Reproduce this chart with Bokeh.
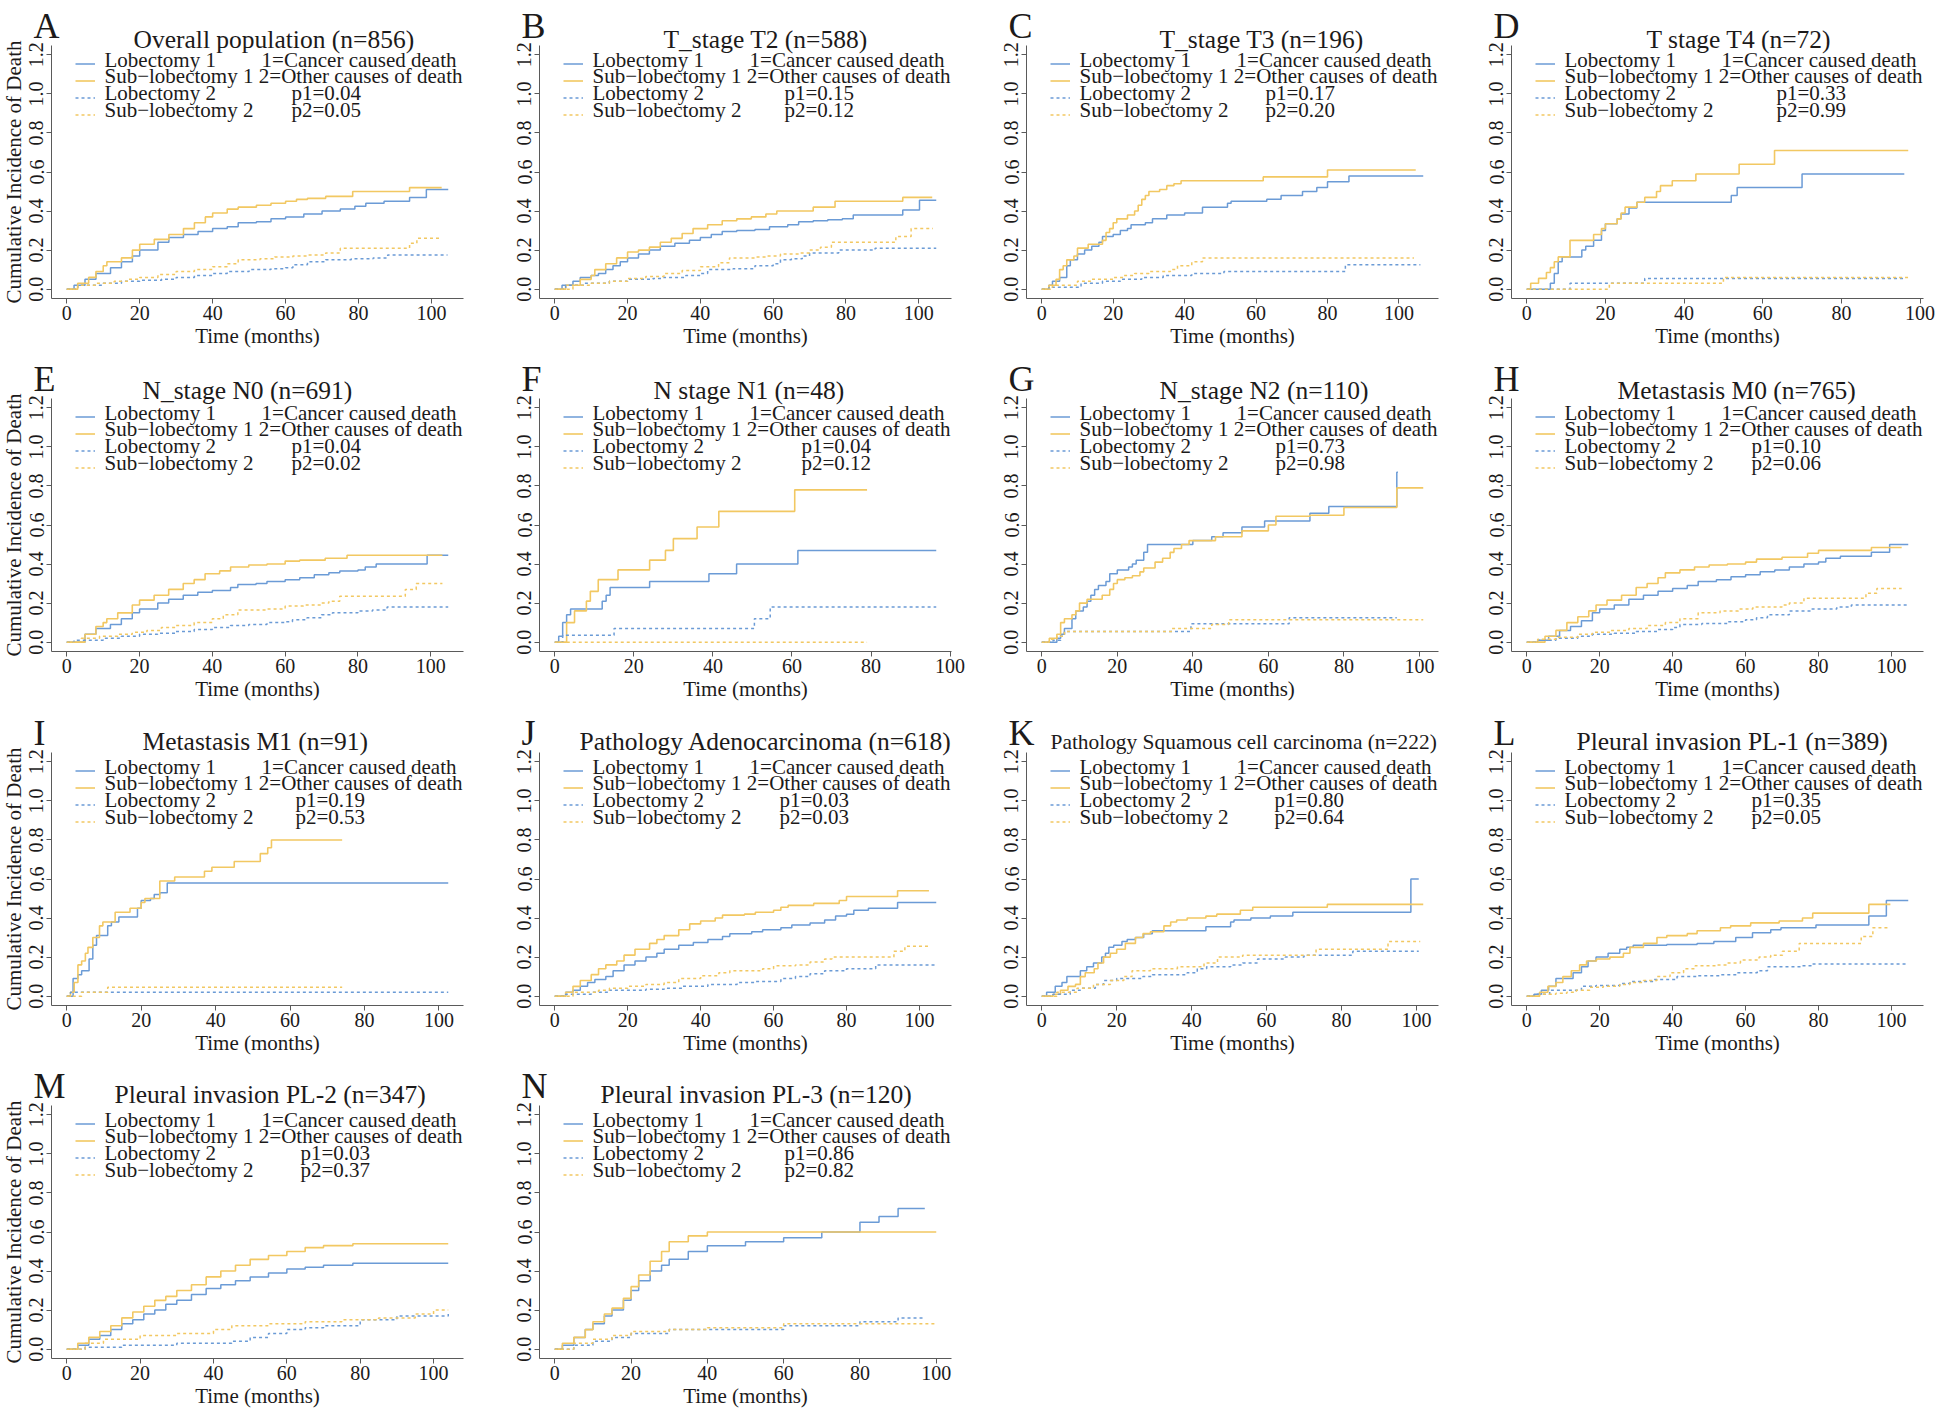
from bokeh.plotting import figure
from bokeh.layouts import gridplot
from bokeh.models import Range1d, Label, FixedTicker, PrintfTickFormatter, Legend, LegendItem
from bokeh.embed import file_html
from bokeh.resources import INLINE

# ---------------- data (time in months, cumulative incidence) ----------------
A_lob1_t = [0,2,5,8,12,15,18,20,25,28,32,36,40,44,47,52,56,60,65,70,75,79,82,87,94,98.6,104.6]
A_lob1_y = [0,0.02,0.05,0.08,0.11,0.14,0.17,0.2,0.24,0.265,0.28,0.295,0.31,0.32,0.34,0.345,0.36,0.37,0.385,0.4,0.41,0.425,0.44,0.45,0.47,0.51,0.51]
A_sub1_t = [0,3,6,8,10,11,15,18,20,24,28,32,35,38,40,44,47,52,56,60,63,66,71,78.4,94,102.8]
A_sub1_y = [0,0.03,0.06,0.09,0.12,0.14,0.16,0.2,0.23,0.255,0.28,0.31,0.34,0.37,0.39,0.41,0.42,0.43,0.44,0.45,0.46,0.465,0.475,0.5,0.52,0.52]
A_lob2_t = [0,3,10,15,20,26,30,35,40,44,50,56,60,62,66,71,78,84,88,104.4]
A_lob2_y = [0,0.02,0.03,0.04,0.045,0.05,0.06,0.07,0.08,0.09,0.1,0.105,0.11,0.125,0.14,0.15,0.155,0.16,0.175,0.175]
A_sub2_t = [0,3,8,13,17,20,25,30,35,40,44,47,53,57,62,66,71,75,94,96,102.8]
A_sub2_y = [0,0.02,0.03,0.04,0.05,0.06,0.075,0.09,0.1,0.115,0.13,0.15,0.155,0.165,0.17,0.175,0.185,0.21,0.235,0.26,0.26]

B_lob1_t = [0,2,5,7,10,12,14,16,18,20,23,26,29,33,37,40,43,46,50,55,59,64,67,71,75,79,82,95.6,100.2,104.8]
B_lob1_y = [0,0.02,0.04,0.06,0.07,0.08,0.1,0.12,0.14,0.16,0.18,0.2,0.22,0.235,0.25,0.265,0.28,0.295,0.3,0.305,0.32,0.33,0.345,0.35,0.355,0.36,0.38,0.405,0.455,0.455]
B_sub1_t = [0,3,7,10,11,14,17,20,23,26,29,32,35,38,42,46,50,54,58,61,71,77,95.6,103.7]
B_sub1_y = [0,0.02,0.05,0.07,0.1,0.13,0.16,0.19,0.2,0.215,0.24,0.26,0.285,0.31,0.33,0.35,0.36,0.37,0.385,0.4,0.42,0.45,0.47,0.47]
B_lob2_t = [0,3,8,15,20,27,30,36,40,42,49,55,60,62,65,68,70,78,88,104.8]
B_lob2_y = [0,0.02,0.03,0.04,0.05,0.055,0.06,0.07,0.08,0.1,0.105,0.12,0.13,0.15,0.155,0.17,0.185,0.2,0.21,0.21]
B_sub2_t = [0,5,10,15,20,25,30,35,40,45,48,55,58,62,67,70,73,76,93.7,97.9,103.9]
B_sub2_y = [0,0.02,0.03,0.04,0.055,0.065,0.08,0.095,0.115,0.135,0.16,0.165,0.17,0.18,0.185,0.2,0.215,0.24,0.27,0.31,0.31]

C_lob1_t = [0,2,3,5,7,8,10,12,14,16,17,20,22,24,25,29,31,35,40,45,52,53,63,67,73,77,80,86,106.8]
C_lob1_y = [0,0.02,0.04,0.06,0.12,0.15,0.18,0.2,0.22,0.24,0.27,0.28,0.3,0.31,0.33,0.34,0.36,0.38,0.39,0.42,0.44,0.45,0.46,0.48,0.5,0.52,0.55,0.58,0.58]
C_sub1_t = [0,2,4,5,6,7,9,10,13,17,18,19,20,21,24,26,27,28,29,30,33,35,37,39,62,80,104.7]
C_sub1_y = [0,0.02,0.05,0.1,0.12,0.15,0.17,0.21,0.23,0.25,0.29,0.31,0.34,0.36,0.38,0.4,0.43,0.46,0.48,0.5,0.51,0.53,0.54,0.555,0.575,0.61,0.61]
C_lob2_t = [0,2,11,17,22,28,34,42,51,85,106]
C_lob2_y = [0,0.01,0.03,0.04,0.05,0.06,0.07,0.08,0.09,0.125,0.125]
C_sub2_t = [0,3,10,14,20,23,26,30,36,38,42,45,104.2]
C_sub2_y = [0,0.02,0.04,0.05,0.06,0.07,0.08,0.09,0.1,0.12,0.14,0.16,0.16]

D_lob1_t = [0,6,7,8,9,14,15,17,19,20,23,24,26,28,52,53.5,70,96]
D_lob1_y = [0,0.03,0.08,0.14,0.165,0.2,0.22,0.25,0.3,0.335,0.36,0.385,0.415,0.445,0.48,0.52,0.59,0.59]
D_sub1_t = [0,1,3,5,6,7,8,11,17,19,20,23,24,25,28,30,33,34,37,43,54,63,97]
D_sub1_y = [0,0.03,0.055,0.085,0.11,0.14,0.165,0.25,0.28,0.31,0.335,0.36,0.39,0.42,0.445,0.47,0.5,0.53,0.555,0.59,0.64,0.71,0.71]
D_lob2_t = [0,11,30,96]
D_lob2_y = [0,0.03,0.055,0.055]
D_sub2_t = [0,21,50,97]
D_sub2_y = [0,0.03,0.06,0.06]

E_lob1_t = [0,5,8,12,15,18,20,25,28,32,36,40,45,47,52,55,60,64,68,72,75,80,82,85,99,104.8]
E_lob1_y = [0,0.04,0.07,0.09,0.12,0.15,0.17,0.2,0.22,0.24,0.255,0.265,0.28,0.295,0.3,0.31,0.32,0.33,0.345,0.355,0.365,0.37,0.385,0.4,0.445,0.445]
E_sub1_t = [0,5,8,10,11,14,18,20,24,28,32,35,38,42,45,50,55,60,64,71,77,103.2]
E_sub1_y = [0,0.04,0.08,0.1,0.12,0.15,0.19,0.215,0.24,0.27,0.3,0.32,0.35,0.365,0.385,0.395,0.4,0.415,0.42,0.43,0.445,0.445]
E_lob2_t = [0,2,10,15,20,25,30,35,40,45,50,55,60,62,66,70,73,80,84,88,104.8]
E_lob2_y = [0,0.01,0.02,0.03,0.04,0.045,0.055,0.065,0.075,0.085,0.09,0.1,0.105,0.115,0.125,0.14,0.15,0.16,0.165,0.18,0.18]
E_sub2_t = [0,4,9,14,18,22,26,30,35,40,43,47,55,60,65,70,72,75,93,96,103.2]
E_sub2_y = [0,0.02,0.03,0.04,0.05,0.06,0.075,0.085,0.1,0.12,0.14,0.165,0.17,0.185,0.19,0.2,0.21,0.235,0.27,0.3,0.3]

F_lob1_t = [0,1,2,3,4,12,13,14,24,39,46,61.5,96.5]
F_lob1_y = [0,0.03,0.1,0.14,0.17,0.21,0.24,0.28,0.31,0.35,0.4,0.47,0.47]
F_sub1_t = [0,3,5,8,9,11,16,24,28,30,36,41.5,60.7,79]
F_sub1_y = [0,0.1,0.16,0.21,0.26,0.32,0.37,0.42,0.47,0.53,0.59,0.67,0.78,0.78]
F_lob2_t = [0,2,15,50.5,54.5,96.5]
F_lob2_y = [0,0.035,0.07,0.12,0.18,0.18]
F_sub2_t = [0,79]
F_sub2_y = [0,0]

G_lob1_t = [0,4,5,6,8,9,11,12,13,14,15,17,18,20,23,24,25,27,28,38,40,45,48,53,59,71,76,94,94.3]
G_lob1_y = [0,0.02,0.04,0.07,0.12,0.16,0.18,0.21,0.24,0.27,0.29,0.31,0.35,0.37,0.385,0.4,0.42,0.46,0.5,0.5,0.52,0.54,0.56,0.59,0.62,0.66,0.695,0.87,0.87]
G_sub1_t = [0,2,4,5,6,8,9,10,12,16,18,19,20,22,24,26,27,30,32,34,35,37,39,46,53,60,62,71,80,94,101]
G_sub1_y = [0,0.02,0.04,0.1,0.12,0.14,0.16,0.2,0.22,0.24,0.27,0.3,0.32,0.33,0.34,0.36,0.38,0.41,0.43,0.46,0.48,0.5,0.52,0.54,0.57,0.6,0.645,0.65,0.69,0.79,0.79]
G_lob2_t = [0,3,5,6,39.5,65.5,94]
G_lob2_y = [0,0.01,0.03,0.055,0.094,0.125,0.125]
G_sub2_t = [0,2,4,6,34.5,45,49.5,101]
G_sub2_y = [0,0.015,0.03,0.055,0.07,0.09,0.115,0.115]

H_lob1_t = [0,3,6,9,12,15,18,20,24,28,32,36,40,44,47,52,56,60,64,68,72,76,80,82,86,94.5,99.5,104.6]
H_lob1_y = [0,0.01,0.03,0.06,0.08,0.11,0.15,0.17,0.19,0.22,0.24,0.26,0.275,0.29,0.31,0.32,0.335,0.345,0.36,0.37,0.385,0.4,0.41,0.43,0.44,0.46,0.5,0.5]
H_sub1_t = [0,5,8,11,14,17,19,22,26,30,33,36,38,42,46,50,55,60,63,70,77,80,94.5,102.8]
H_sub1_y = [0,0.03,0.06,0.1,0.13,0.16,0.19,0.215,0.24,0.28,0.3,0.33,0.355,0.37,0.385,0.395,0.4,0.41,0.425,0.435,0.455,0.47,0.485,0.485]
H_lob2_t = [0,3,8,14,18,24,30,36,40,42,48,55,60,63,66,72,78,85,89,104.6]
H_lob2_y = [0,0.01,0.02,0.03,0.04,0.045,0.055,0.065,0.075,0.09,0.095,0.105,0.115,0.125,0.14,0.16,0.17,0.18,0.19,0.19]
H_sub2_t = [0,3,8,14,18,23,28,33,38,42,47,53,58,62,70,72,76,93,96,102.8]
H_sub2_y = [0,0.015,0.025,0.04,0.05,0.06,0.07,0.085,0.1,0.12,0.15,0.16,0.17,0.18,0.19,0.2,0.225,0.25,0.275,0.275]

I_lob1_t = [0,1.7,3,4,6,7,8,11,12,14,19,20,22.5,23.5,25,27,102.5]
I_lob1_y = [0,0.09,0.11,0.13,0.19,0.26,0.31,0.36,0.38,0.405,0.45,0.49,0.5,0.52,0.53,0.58,0.58]
I_sub1_t = [0,1,2,3,4,5,5.7,7,8.8,9.7,13,17,20,21,25,29,37,39,45,52,54,55,74]
I_sub1_y = [0,0.02,0.07,0.16,0.18,0.22,0.25,0.3,0.36,0.38,0.43,0.45,0.48,0.5,0.59,0.61,0.64,0.66,0.69,0.73,0.76,0.8,0.8]
I_lob2_t = [0,1,102.5]
I_lob2_y = [0,0.02,0.02]
I_sub2_t = [0,4,11,74]
I_sub2_y = [0,0.02,0.045,0.045]

J_lob1_t = [0,3,5,7,9,11,14,16,19,22,25,28,30,34,38,42,46,48,54,57,62,65,70,74,77,80,82,86,94,104.6]
J_lob1_y = [0,0.02,0.03,0.05,0.07,0.085,0.1,0.13,0.16,0.18,0.2,0.22,0.24,0.26,0.275,0.29,0.305,0.32,0.33,0.34,0.35,0.365,0.375,0.39,0.41,0.42,0.44,0.45,0.48,0.48]
J_sub1_t = [0,3,5,7,10,12,14,17,19,22,26,28,30,34,37,40,44,46,52,55,60,62,64,71,78,80,94,102.6]
J_sub1_y = [0,0.02,0.05,0.08,0.11,0.14,0.16,0.18,0.21,0.24,0.27,0.29,0.31,0.34,0.37,0.385,0.4,0.415,0.42,0.43,0.44,0.455,0.465,0.475,0.49,0.51,0.54,0.54]
J_lob2_t = [0,3,10,15,25,30,35,42,50,55,62,66,70,74,80,88,104.6]
J_lob2_y = [0,0.01,0.02,0.03,0.035,0.04,0.05,0.06,0.07,0.075,0.09,0.1,0.115,0.13,0.14,0.16,0.16]
J_sub2_t = [0,5,12,15,20,25,30,34,40,45,48,57,60,66,70,74,76,93,96,102.6]
J_sub2_y = [0,0.02,0.03,0.04,0.05,0.06,0.07,0.09,0.105,0.12,0.13,0.14,0.155,0.16,0.175,0.19,0.2,0.23,0.255,0.255]

K_lob1_t = [0,1.3,3.6,5.4,6.7,10.3,12,13.8,16,17,17.9,19.2,21.4,22.8,25,27.2,29.5,43.8,50.4,51.3,55.8,61,67,98.5,100.6]
K_lob1_y = [0,0.02,0.05,0.07,0.1,0.13,0.15,0.17,0.2,0.22,0.25,0.26,0.28,0.29,0.3,0.32,0.335,0.355,0.38,0.39,0.4,0.41,0.43,0.6,0.6]
K_sub1_t = [0,3,5,7,9,10.3,11.6,14,15,16.5,18.3,20,22.3,25,27,29,32.6,34.4,36,38.8,43.8,46.7,53,56.3,76.2,101.8]
K_sub1_y = [0,0.01,0.03,0.05,0.06,0.1,0.12,0.14,0.17,0.2,0.22,0.24,0.27,0.3,0.32,0.33,0.36,0.38,0.39,0.4,0.41,0.42,0.44,0.455,0.47,0.47]
K_lob2_t = [0,3,7.6,10.3,14.3,16.5,20,27,29.5,38.8,41.5,44,50.4,53.6,57.6,65,70,83,100.6]
K_lob2_y = [0,0.01,0.03,0.04,0.06,0.08,0.09,0.1,0.11,0.12,0.14,0.15,0.16,0.17,0.19,0.2,0.21,0.23,0.23]
K_sub2_t = [0,4,9.4,13.8,18.3,21.9,24.1,29,36.2,43.3,46.9,53.6,73.2,92.4,101]
K_sub2_y = [0,0.02,0.04,0.06,0.08,0.1,0.13,0.14,0.15,0.17,0.2,0.21,0.24,0.28,0.28]

L_lob1_t = [0,2,4,6,8,12.7,15,16.8,19,22.3,25.5,27.4,29.2,38.4,46.7,51.3,57.3,61.9,66.9,69.7,79.3,93.8,98.6,104.6]
L_lob1_y = [0,0.01,0.03,0.05,0.09,0.12,0.15,0.18,0.2,0.22,0.24,0.25,0.26,0.265,0.27,0.28,0.3,0.325,0.34,0.35,0.365,0.41,0.49,0.49]
L_sub1_t = [0,3.5,5.8,8,9.9,12.2,14.5,16.4,19.1,22.8,26.5,28.3,32,35.7,38.4,44,46.7,53.1,55.9,61.4,69.2,75.6,78.4,93.8,99.7]
L_sub1_y = [0,0.02,0.05,0.07,0.1,0.13,0.16,0.18,0.19,0.2,0.22,0.25,0.27,0.3,0.31,0.32,0.335,0.35,0.36,0.375,0.385,0.4,0.425,0.47,0.47]
L_lob2_t = [0,2,6.3,15,19,25.5,28.3,34.7,41.2,46.7,53.1,57.7,63.2,66,75.2,78,104.6]
L_lob2_y = [0,0.01,0.03,0.05,0.055,0.065,0.075,0.085,0.1,0.105,0.11,0.12,0.13,0.15,0.155,0.165,0.165]
L_sub2_t = [0,3.5,8,11,13.6,17.3,21,25.5,28.3,32,35.7,39.3,43,46.2,52.2,55,58.6,63.7,66.9,70.1,74.7,91.7,94.9,99.7]
L_sub2_y = [0,0.01,0.015,0.02,0.03,0.045,0.05,0.06,0.07,0.08,0.1,0.12,0.14,0.155,0.16,0.17,0.185,0.2,0.21,0.23,0.27,0.305,0.35,0.35]

M_lob1_t = [0,3,6,9,12,15,18,21,24,27,30,34,38,42,46,50,55,60,65,70,78,104]
M_lob1_y = [0,0.02,0.05,0.07,0.1,0.13,0.15,0.18,0.2,0.23,0.25,0.28,0.31,0.33,0.35,0.37,0.39,0.41,0.42,0.43,0.44,0.44]
M_sub1_t = [0,3,6,9,12,15,18,21,24,27,30,34,38,42,46,50,55,60,65,70,78,104]
M_sub1_y = [0,0.03,0.06,0.09,0.12,0.16,0.19,0.22,0.25,0.27,0.3,0.33,0.37,0.4,0.43,0.46,0.48,0.5,0.52,0.53,0.54,0.54]
M_lob2_t = [0,5,15,30,45,50,55,60,65,70,80,90,104]
M_lob2_y = [0,0.01,0.02,0.03,0.04,0.06,0.08,0.1,0.11,0.12,0.15,0.17,0.18]
M_sub2_t = [0,5,10,20,30,40,45,55,65,75,85,95,100,104]
M_sub2_y = [0,0.03,0.05,0.07,0.08,0.1,0.12,0.13,0.14,0.15,0.16,0.18,0.2,0.2]

N_lob1_t = [0,2,5,8,10,13,15,18,20,22,25,28,30,35,40,50,60,70,80,85,90,97]
N_lob1_y = [0,0.02,0.06,0.1,0.13,0.17,0.2,0.25,0.3,0.35,0.4,0.43,0.46,0.5,0.53,0.55,0.57,0.6,0.65,0.68,0.72,0.72]
N_sub1_t = [0,2,5,8,10,13,15,18,20,22,25,28,30,35,40,100]
N_sub1_y = [0,0.03,0.06,0.1,0.14,0.18,0.21,0.26,0.32,0.38,0.45,0.5,0.55,0.58,0.6,0.6]
N_lob2_t = [0,5,10,15,20,30,45,60,80,90,97]
N_lob2_y = [0,0.02,0.04,0.06,0.08,0.1,0.1,0.12,0.14,0.16,0.16]
N_sub2_t = [0,5,10,15,20,30,40,60,100]
N_sub2_y = [0,0.03,0.05,0.07,0.09,0.1,0.11,0.13,0.13]

letters = ["A","B","C","D","E","F","G","H","I","J","K","L","M","N"]
titles = ["Overall population (n=856)", "T_stage T2 (n=588)", "T_stage T3 (n=196)",
          "T stage T4 (n=72)", "N_stage N0 (n=691)", "N stage N1 (n=48)",
          "N_stage N2 (n=110)", "Metastasis M0 (n=765)", "Metastasis M1 (n=91)",
          "Pathology Adenocarcinoma (n=618)", "Pathology Squamous cell carcinoma (n=222)",
          "Pleural invasion PL-1 (n=389)", "Pleural invasion PL-2 (n=347)",
          "Pleural invasion PL-3 (n=120)"]
p1_vals = ["0.04","0.15","0.17","0.33","0.04","0.04","0.73","0.10","0.19","0.03","0.80","0.35","0.03","0.86"]
p2_vals = ["0.05","0.12","0.20","0.99","0.02","0.12","0.98","0.06","0.53","0.03","0.64","0.05","0.37","0.82"]
series_labels = ["Lobectomy 1", "Sub\u2212lobectomy 1", "Lobectomy 2", "Sub\u2212lobectomy 2"]
cause_labels = ["1=Cancer caused death", "2=Other causes of death"]
y_ticks = [0, 0.2, 0.4, 0.6, 0.8, 1.0, 1.2]
x_ticks = [0, 20, 40, 60, 80, 100]

_g = globals()
curves = [[(_g[f"{L}_{k}_t"], _g[f"{L}_{k}_y"]) for k in ("lob1", "sub1", "lob2", "sub2")]
          for L in letters]

# ---------------- layout / style ----------------
# positions below are in pixels of a panel cell
title_left_px = [133, 175, 184, 186, 142, 165, 184, 157, 142, 91, 75, 116, 114, 112]
pval_left_px = [291, 296, 290, 316, 291, 313, 300, 291, 295, 291, 299, 291, 300, 296]
title_size = ["25.5px"] * 14
title_size[10] = "21.4px"
letter_base_px = [33, 33, 33, 33]   # per grid row (kept inside the panel)
title_base_px = [47, 45, 42, 42]    # per grid row
legend_base_px = [67, 83, 100, 117]
TEXT_DY = -8                        # correction of label baselines (px)

col_w = [488, 487, 485, 484]      # figure widths per grid column
row_h = [353, 354, 353, 351]      # figure heights per grid row

BLUE = "#6b9bd6"
YELLOW = "#f2c862"
TXT = "#1c1a1a"
AXC = "#5a5a5a"
FONT = "Liberation Serif"
PL, PR, PT, PB = 51, 463, 45, 298   # plotting box inside a panel cell (pixels)
Y0, Y1 = -0.048, 1.248
styles = [(BLUE, None, 1.5), (YELLOW, None, 1.6), (BLUE, "3 3", 1.5), (YELLOW, "3 3", 1.5)]


def make_panel(i):
    r, c = divmod(i, 4)
    W, H = col_w[c], row_h[r]
    m = max(t[-1] for t, _ in curves[i])
    x0, x1 = -0.04 * m, 1.04 * m
    sx = (x1 - x0) / (PR - PL)
    sy = (Y1 - Y0) / (PB - PT)
    XL, XR = x0 - PL * sx, x1 + (W - PR) * sx
    YT, YB = Y1 + PT * sy, Y0 - (H - PB) * sy

    def X(px):
        return XL + px * sx

    def Y(py):
        return YT - (py + TEXT_DY) * sy

    p = figure(width=W, height=H, output_backend="svg", toolbar_location=None,
               x_range=Range1d(XL, XR), y_range=Range1d(YB, YT),
               min_border=0, min_border_left=0, min_border_right=0,
               min_border_top=0, min_border_bottom=0)
    p.outline_line_color = None
    p.grid.visible = False
    p.background_fill_color = "white"
    p.border_fill_color = "white"

    items = []
    for (t, y), (col, dash, lw) in zip(curves[i], styles):
        kw = dict(line_color=col, line_width=lw)
        if dash:
            kw["line_dash"] = dash
        rr = p.step(t, y, mode="after", **kw)
        items.append(LegendItem(label=" ", renderers=[rr]))

    # legend keys (texts are drawn as labels so the rows can be packed tightly)
    leg = Legend(items=items, location=(75, H - 123), glyph_width=20, glyph_height=17,
                 label_height=17, spacing=0, padding=0, margin=0, label_standoff=0,
                 label_width=1, label_text_font_size="1px",
                 background_fill_alpha=0, border_line_alpha=0)
    p.add_layout(leg)

    for ax in (p.xaxis[0], p.yaxis[0]):
        ax.axis_line_color = AXC
        ax.major_tick_line_color = AXC
        ax.minor_tick_line_color = None
        ax.major_tick_out = 5
        ax.major_tick_in = 0
        ax.major_label_text_font = FONT
        ax.major_label_text_font_size = "20px"
        ax.major_label_text_color = TXT
        ax.axis_label_text_font = FONT
        ax.axis_label_text_font_size = "21px"
        ax.axis_label_text_font_style = "normal"
        ax.axis_label_text_color = TXT
    p.xaxis.ticker = FixedTicker(ticks=x_ticks)
    p.yaxis.ticker = FixedTicker(ticks=y_ticks)
    p.yaxis.formatter = PrintfTickFormatter(format="%.1f")
    p.yaxis.major_label_orientation = "vertical"
    p.xaxis.fixed_location = Y0
    p.xaxis.bounds = (x0, x1)
    p.yaxis.fixed_location = x0
    p.yaxis.bounds = (Y0, Y1)
    p.xaxis.major_label_standoff = 2
    p.xaxis.axis_label_standoff = 1
    p.yaxis.major_label_standoff = 3
    p.yaxis.axis_label_standoff = 1
    p.xaxis.axis_label = "Time (months)"
    if c == 0:
        p.yaxis.axis_label = "Cumulative Incidence of Death"

    lab_kw = dict(text_font=FONT, text_color=TXT, text_baseline="alphabetic")
    p.add_layout(Label(x=X(33), y=Y(letter_base_px[r]), text=letters[i],
                       text_font_size="36px", **lab_kw))
    p.add_layout(Label(x=X(title_left_px[i]), y=Y(title_base_px[r]), text=titles[i],
                       text_font_size=title_size[i], **lab_kw))
    for k, lab in enumerate(series_labels):
        p.add_layout(Label(x=X(104), y=Y(legend_base_px[k]), text=lab,
                           text_font_size="21px", **lab_kw))
    p.add_layout(Label(x=X(456), y=Y(legend_base_px[0]), text=cause_labels[0],
                       text_align="right", text_font_size="21px", **lab_kw))
    p.add_layout(Label(x=X(462), y=Y(legend_base_px[1]), text=cause_labels[1],
                       text_align="right", text_font_size="21px", **lab_kw))
    p.add_layout(Label(x=X(pval_left_px[i]), y=Y(legend_base_px[2]), text="p1=" + p1_vals[i],
                       text_font_size="21px", **lab_kw))
    p.add_layout(Label(x=X(pval_left_px[i]), y=Y(legend_base_px[3]), text="p2=" + p2_vals[i],
                       text_font_size="21px", **lab_kw))
    return p


figs = [make_panel(i) for i in range(14)]
rows = [figs[0:4], figs[4:8], figs[8:12], figs[12:14] + [None, None]]
grid = gridplot(rows, toolbar_location=None)
open("out.html", "w").write(file_html(grid, INLINE))
